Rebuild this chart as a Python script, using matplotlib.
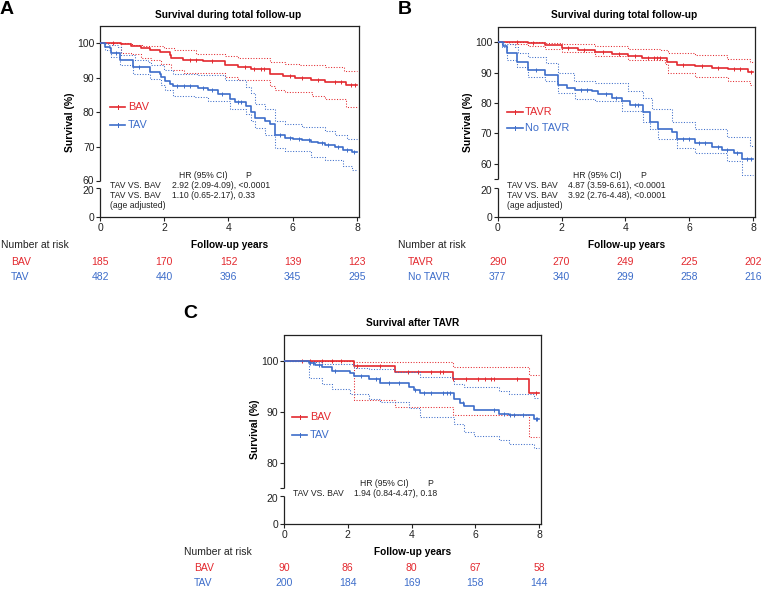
import numpy as np
import matplotlib
matplotlib.use('Agg')
import matplotlib.pyplot as plt
from matplotlib.lines import Line2D
from matplotlib.transforms import blended_transform_factory, ScaledTranslation

plt.rcParams['font.family'] = ['Liberation Sans', 'DejaVu Sans']

W, H = 765, 589
RED = '#e3292f'
BLUE = '#3d6dca'
DARK = '#222222'

# ---------------- data ----------------
risk_times = [0, 2, 4, 6, 8]
x_ticks = [0, 2, 4, 6, 8]

# Panel A
A_groups = ['BAV', 'TAV']
A_risk_BAV = [185, 170, 152, 139, 123]
A_risk_TAV = [482, 440, 396, 345, 295]
A_BAV_t = [0, 0.66, 0.98, 1.29, 1.55, 1.86, 2.17, 2.22, 2.59, 3.20, 3.90, 4.30, 4.70, 5.29, 5.70, 6.06, 6.58, 7.00, 7.67]
A_BAV_s = [100, 99.7, 99.2, 98.5, 98.0, 97.4, 96.6, 95.8, 95.1, 94.8, 93.8, 93.1, 92.5, 91.0, 90.4, 90.0, 89.4, 88.7, 87.9]
A_BAV_up_t = [0, 1.0, 1.3, 2.0, 2.3, 3.0, 3.9, 4.3, 5.3, 5.75, 6.2, 7.0, 7.6]
A_BAV_up_s = [100, 99.6, 99.3, 98.6, 98.0, 97.0, 96.3, 95.8, 94.6, 94.1, 93.6, 93.1, 92.0]
A_BAV_lo_t = [0, 0.66, 0.98, 1.29, 1.6, 1.9, 2.2, 2.6, 3.9, 4.3, 5.3, 5.45, 5.75, 6.6, 7.0, 7.65]
A_BAV_lo_s = [100, 97.3, 96.8, 95.6, 95.0, 94.0, 92.2, 91.3, 90.3, 89.2, 87.7, 86.4, 85.7, 84.8, 83.8, 81.5]
A_BAV_cens = [0.4, 2.8, 3.0, 3.5, 4.5, 4.8, 5.0, 5.1, 5.9, 6.3, 6.8, 7.3, 7.5, 7.8, 7.95]

A_TAV_t = [0, 0.15, 0.30, 0.35, 0.61, 1.03, 1.55, 1.86, 1.91, 2.01, 2.17, 2.27, 2.95, 3.05, 3.36, 3.68, 4.04, 4.20, 4.56,
           4.71, 4.82, 5.13, 5.29, 5.44, 5.75, 6.00, 6.30, 6.58, 6.80, 7.00, 7.30, 7.57, 7.83]
A_TAV_s = [100, 99.0, 98.5, 97.3, 95.1, 93.1, 91.7, 91.2, 90.2, 89.0, 88.2, 87.7, 87.5, 87.0, 86.3, 85.3, 83.8, 82.8, 81.9,
           79.9, 78.4, 77.5, 76.5, 73.5, 72.6, 72.2, 71.9, 71.4, 71.0, 70.5, 69.9, 69.1, 68.3]
A_TAV_up_t = [0, 0.25, 0.56, 0.66, 1.08, 1.5, 1.6, 2.0, 2.27, 3.05, 3.88, 4.56, 4.71, 4.82, 5.13, 5.44, 5.75, 6.3, 7.0, 7.3, 7.7]
A_TAV_up_s = [100, 99.5, 99.0, 96.6, 95.1, 94.6, 93.6, 92.2, 91.2, 90.7, 89.2, 87.3, 85.5, 82.4, 81.0, 77.5, 76.5, 75.8, 74.5, 73.5, 72.3]
A_TAV_lo_t = [0, 0.15, 0.35, 0.61, 1.03, 1.55, 1.91, 2.01, 2.27, 2.95, 3.36, 4.04, 4.56, 4.71, 4.82, 5.13, 5.44, 5.75, 6.58, 7.0, 7.57, 7.83]
A_TAV_lo_s = [100, 98.0, 96.1, 93.6, 91.2, 89.7, 88.0, 86.3, 84.8, 84.3, 83.3, 80.9, 79.4, 77.5, 75.5, 73.5, 69.6, 68.6, 66.9, 66.0, 64.3, 63.3]
A_TAV_cens = [0.5, 1.2, 2.4, 2.6, 2.8, 3.2, 3.5, 3.8, 4.3, 4.4, 5.6, 5.9, 6.2, 6.5, 6.9, 7.1, 7.4, 7.7, 7.9]

# Panel B
B_groups = ['TAVR', 'No TAVR']
B_risk_TAVR = [290, 270, 249, 225, 202]
B_risk_No = [377, 340, 299, 258, 216]
B_TAVR_t = [0, 0.96, 1.48, 2.0, 2.53, 3.05, 3.57, 4.09, 4.51, 5.29, 5.61, 6.18, 6.70, 7.23, 7.85]
B_TAVR_s = [100, 99.7, 99.1, 98.2, 97.3, 96.8, 96.0, 95.5, 94.8, 93.5, 92.5, 92.2, 91.6, 91.2, 90.3]
B_TAVR_up_t = [0, 1.5, 2.0, 3.05, 4.09, 5.1, 5.35, 6.18, 7.2, 7.9]
B_TAVR_up_s = [100, 99.8, 99.5, 98.6, 97.8, 97.3, 96.5, 95.8, 94.6, 93.4]
B_TAVR_lo_t = [0, 0.34, 0.96, 1.48, 2.0, 3.05, 4.09, 5.24, 5.35, 6.18, 7.23, 7.9]
B_TAVR_lo_s = [100, 99.5, 98.7, 97.8, 96.8, 95.4, 94.1, 92.8, 89.8, 88.7, 87.1, 86.0]
B_TAVR_cens = [0.6, 1.1, 2.2, 2.7, 3.3, 3.8, 4.3, 4.7, 4.9, 5.0, 5.1, 5.8, 6.4, 6.9, 7.4, 7.6, 7.95]

B_No_t = [0, 0.18, 0.28, 0.60, 0.96, 1.48, 1.90, 2.16, 2.42, 2.95, 3.15, 3.57, 3.89, 4.15, 4.56, 4.77, 5.03, 5.45, 5.61,
          6.18, 6.70, 7.02, 7.40, 7.65]
B_No_s = [100, 98.9, 96.5, 93.5, 90.9, 89.2, 86.0, 84.9, 84.4, 83.9, 82.8, 81.7, 80.6, 79.4, 76.9, 73.7, 71.5, 70.4, 68.0,
          66.8, 65.5, 64.5, 63.5, 61.5]
B_No_up_t = [0, 0.2, 0.54, 0.65, 0.96, 1.5, 1.9, 2.4, 3.05, 4.09, 4.56, 4.82, 5.45, 6.18, 7.2, 7.9]
B_No_up_s = [100, 99.5, 98.4, 96.3, 95.2, 93.0, 89.8, 87.1, 86.6, 83.9, 81.7, 78.0, 73.7, 71.5, 68.8, 66.0]
B_No_lo_t = [0, 0.12, 0.28, 0.6, 0.96, 1.48, 1.9, 2.42, 3.05, 3.89, 4.56, 4.77, 5.03, 5.61, 6.18, 7.2, 7.65]
B_No_lo_s = [100, 98.4, 94.1, 91.9, 88.7, 87.1, 83.3, 81.2, 80.7, 77.4, 73.7, 71.5, 68.3, 65.1, 63.5, 60.8, 56.3]
B_No_cens = [1.2, 2.6, 2.8, 3.4, 3.7, 4.3, 4.4, 5.8, 6.0, 6.3, 6.5, 6.9, 7.2, 7.5, 7.8, 7.95]

# Panel C
C_groups = ['BAV', 'TAV']
C_risk_BAV = [90, 86, 80, 67, 58]
C_risk_TAV = [200, 184, 169, 158, 144]
C_BAV_t = [0, 2.19, 3.49, 5.29, 7.70]
C_BAV_s = [100, 98.9, 97.7, 96.4, 93.6]
C_BAV_up_t = [0, 2.19, 5.29, 7.70]
C_BAV_up_s = [100, 99.8, 98.8, 97.2]
C_BAV_lo_t = [0, 2.19, 3.49, 5.29, 7.70]
C_BAV_lo_s = [100, 92.2, 91.0, 89.3, 85.1]
C_BAV_cens = [0.55, 0.8, 1.2, 1.5, 1.8, 2.3, 3.0, 3.9, 4.2, 4.6, 4.9, 5.0, 5.3, 5.7, 6.1, 6.3, 6.5, 6.6, 7.3, 7.9]

C_TAV_t = [0, 0.77, 0.98, 1.19, 1.51, 2.08, 2.19, 2.66, 3.02, 3.91, 4.07, 4.28, 5.32, 5.53, 5.64, 5.95, 6.74, 7.05, 7.83]
C_TAV_s = [100, 99.6, 99.1, 98.8, 98.0, 97.5, 97.0, 96.4, 95.7, 94.8, 94.3, 93.6, 92.4, 91.6, 91.2, 90.3, 89.6, 89.3, 88.6]
C_TAV_up_t = [0, 0.77, 1.19, 2.19, 2.66, 3.49, 4.28, 5.32, 5.64, 6.74, 7.05, 7.83]
C_TAV_up_s = [100, 99.8, 99.4, 98.6, 98.3, 97.7, 96.7, 95.4, 94.8, 94.1, 93.5, 92.7]
C_TAV_lo_t = [0, 0.77, 1.19, 1.51, 2.08, 2.66, 3.02, 3.91, 4.28, 5.32, 5.64, 5.95, 6.74, 7.05, 7.83]
C_TAV_lo_s = [100, 96.5, 95.5, 94.4, 93.4, 92.5, 91.8, 90.8, 89.0, 87.6, 86.0, 85.2, 84.4, 83.7, 82.8]
C_TAV_cens = [0.8, 0.9, 1.1, 1.6, 2.4, 2.9, 3.0, 3.3, 3.6, 4.1, 4.4, 4.6, 5.0, 5.1, 5.2, 5.6, 6.6, 6.9, 7.1, 7.2, 7.5, 7.9, 7.95]

END_T = 8.0

# ---------------- drawing ----------------
fig = plt.figure(figsize=(W / 100, H / 100), dpi=100)


def fx(px):
    return px / W


def fy(py):
    return 1 - py / H


def make_axes(left, right, top, bottom, ybreak, ypx, yticks, ylabels):
    ax = fig.add_axes([fx(left), fy(bottom), (right - left) / W, (bottom - top) / H])
    bp = np.array(ybreak, float)
    pp = np.array(ypx, float)
    ax.set_yscale('function', functions=(lambda y: np.interp(y, bp, pp),
                                         lambda y: np.interp(y, pp, bp)))
    ax.set_xlim(0, 8.05)
    ax.set_ylim(0, 105)
    ax.set_xticks(x_ticks)
    ax.set_yticks(yticks)
    ax.set_yticklabels(ylabels)
    for sp in ['top', 'right', 'bottom']:
        ax.spines[sp].set_color(DARK)
        ax.spines[sp].set_linewidth(0.9)
    ax.spines['left'].set_visible(False)
    tr = ax.get_yaxis_transform()
    ax.plot([0, 0], [0, 20], color=DARK, lw=0.9, transform=tr, clip_on=False, solid_capstyle='butt')
    ax.plot([0, 0], [ybreak[2], 105], color=DARK, lw=0.9, transform=tr, clip_on=False, solid_capstyle='butt')
    ax.tick_params(direction='out', length=3, width=0.8, colors=DARK, labelsize=7.5)
    ax.tick_params(axis='x', pad=1.5)
    ax.tick_params(axis='y', pad=1)
    # nudge the two labels at the axis break apart slightly
    labs = ax.get_yticklabels()
    labs[1].set_transform(labs[1].get_transform() + ScaledTranslation(0, -1.5 / 100, fig.dpi_scale_trans))
    if ylabels[2]:
        labs[2].set_transform(labs[2].get_transform() + ScaledTranslation(0, 1.5 / 100, fig.dpi_scale_trans))
    return ax


def km(ax, t, s, color, lw=1.2, ls='-'):
    tt = list(t) + [END_T]
    ss = list(s) + [s[-1]]
    ax.step(tt, ss, where='post', color=color, lw=lw, ls=ls)


def cens(ax, t, s, ct, color):
    idx = np.searchsorted(np.array(t), np.array(ct), side='right') - 1
    vals = np.array(s)[idx]
    ax.plot(ct, vals, ls='none', marker='|', ms=3, mew=0.7, color=color)


def panel(ax, curves):
    for (t, s, ut, us, lt, ls_, ct, col) in curves:
        km(ax, ut, us, col, lw=0.75, ls=(0, (1, 1.6)))
        km(ax, lt, ls_, col, lw=0.75, ls=(0, (1, 1.6)))
        km(ax, t, s, col, lw=1.2)
        cens(ax, t, s, ct, col)


def text(px, py, s, **kw):
    fig.text(fx(px), fy(py), s, **kw)


def legend(x1, x2, xt, y, label, color):
    fig.add_artist(Line2D([fx(x1), fx(x2)], [fy(y), fy(y)], color=color, lw=1.2, transform=fig.transFigure))
    fig.add_artist(Line2D([fx((x1 + x2) / 2)] * 2, [fy(y - 2), fy(y + 2)], color=color, lw=0.7, transform=fig.transFigure))
    text(xt, y, label, color=color, fontsize=7.8, va='center', ha='left')


def risk(ax, px_label, py_rows, labels, rows, colors, py_head):
    text(px_label - 10, py_head, 'Number at risk', fontsize=7.5, va='center', ha='left', color=DARK)
    tr = blended_transform_factory(ax.transData, fig.transFigure)
    for lab, row, col, py in zip(labels, rows, colors, py_rows):
        text(px_label, py, lab, fontsize=7.5, va='center', ha='left', color=col)
        for xv, n in zip(risk_times, row):
            ax.text(xv, fy(py), str(n), transform=tr, fontsize=7.5, va='center', ha='center', color=col)


HRFS = 6.2

# Panel A
axA = make_axes(100, 358.6, 26, 217, [0, 20, 60, 105], [0, 29, 36, 191],
                [0, 20, 60, 70, 80, 90, 100], ['0', '20', '60', '70', '80', '90', '100'])
panel(axA, [(A_BAV_t, A_BAV_s, A_BAV_up_t, A_BAV_up_s, A_BAV_lo_t, A_BAV_lo_s, A_BAV_cens, RED),
            (A_TAV_t, A_TAV_s, A_TAV_up_t, A_TAV_up_s, A_TAV_lo_t, A_TAV_lo_s, A_TAV_cens, BLUE)])
text(7, 9, 'A', fontsize=14, fontweight='bold', ha='center', va='center')
text(228, 15, 'Survival during total follow-up', fontsize=7.3, fontweight='bold', ha='center', va='center')
text(70, 122, 'Survival (%)', fontsize=7.5, fontweight='bold', rotation=90, ha='center', va='center')
text(230, 245, 'Follow-up years', fontsize=7.3, fontweight='bold', ha='center', va='center')
legend(110, 125, 128, 107, A_groups[0], RED)
legend(110, 125, 128, 125, A_groups[1], BLUE)
text(179, 175, 'HR (95% CI)', fontsize=HRFS, va='center', color=DARK)
text(245, 175, 'P', fontsize=HRFS, va='center', color=DARK)
text(110, 186, 'TAV VS. BAV', fontsize=HRFS, va='center', color=DARK)
text(172, 186, '2.92 (2.09-4.09), <0.0001', fontsize=HRFS, va='center', color=DARK)
text(110, 196, 'TAV VS. BAV', fontsize=HRFS, va='center', color=DARK)
text(172, 196, '1.10 (0.65-2.17), 0.33', fontsize=HRFS, va='center', color=DARK)
text(110, 206, '(age adjusted)', fontsize=HRFS, va='center', color=DARK)
risk(axA, 11, [262, 277], A_groups, [A_risk_BAV, A_risk_TAV], [RED, BLUE], 245)

# Panel B
axB = make_axes(497.7, 754.6, 27, 216.7, [0, 20, 55, 105], [0, 28.7, 37.7, 189.7],
                [0, 20, 55, 60, 70, 80, 90, 100], ['0', '20', '', '60', '70', '80', '90', '100'])
panel(axB, [(B_TAVR_t, B_TAVR_s, B_TAVR_up_t, B_TAVR_up_s, B_TAVR_lo_t, B_TAVR_lo_s, B_TAVR_cens, RED),
            (B_No_t, B_No_s, B_No_up_t, B_No_up_s, B_No_lo_t, B_No_lo_s, B_No_cens, BLUE)])
text(405, 9, 'B', fontsize=14, fontweight='bold', ha='center', va='center')
text(624, 15, 'Survival during total follow-up', fontsize=7.3, fontweight='bold', ha='center', va='center')
text(468, 122, 'Survival (%)', fontsize=7.5, fontweight='bold', rotation=90, ha='center', va='center')
text(627, 245, 'Follow-up years', fontsize=7.3, fontweight='bold', ha='center', va='center')
legend(507, 523, 525, 112, B_groups[0], RED)
legend(507, 523, 525, 128, B_groups[1], BLUE)
text(573, 175, 'HR (95% CI)', fontsize=HRFS, va='center', color=DARK)
text(640, 175, 'P', fontsize=HRFS, va='center', color=DARK)
text(507, 186, 'TAV VS. BAV', fontsize=HRFS, va='center', color=DARK)
text(568, 186, '4.87 (3.59-6.61), <0.0001', fontsize=HRFS, va='center', color=DARK)
text(507, 196, 'TAV VS. BAV', fontsize=HRFS, va='center', color=DARK)
text(568, 196, '3.92 (2.76-4.48), <0.0001', fontsize=HRFS, va='center', color=DARK)
text(507, 206, '(age adjusted)', fontsize=HRFS, va='center', color=DARK)
risk(axB, 408, [262, 277], B_groups, [B_risk_TAVR, B_risk_No], [RED, BLUE], 245)

# Panel C
axC = make_axes(284, 540.6, 335, 524, [0, 20, 75, 105], [0, 28, 35.7, 189],
                [0, 20, 75, 80, 90, 100], ['0', '20', '', '80', '90', '100'])
panel(axC, [(C_BAV_t, C_BAV_s, C_BAV_up_t, C_BAV_up_s, C_BAV_lo_t, C_BAV_lo_s, C_BAV_cens, RED),
            (C_TAV_t, C_TAV_s, C_TAV_up_t, C_TAV_up_s, C_TAV_lo_t, C_TAV_lo_s, C_TAV_cens, BLUE)])
text(190, 313, 'C', fontsize=14, fontweight='bold', ha='center', va='center')
text(413, 323, 'Survival after TAVR', fontsize=7.3, fontweight='bold', ha='center', va='center')
text(255, 429, 'Survival (%)', fontsize=7.5, fontweight='bold', rotation=90, ha='center', va='center')
text(413, 552, 'Follow-up years', fontsize=7.3, fontweight='bold', ha='center', va='center')
legend(292, 307, 310, 417, C_groups[0], RED)
legend(292, 307, 310, 435, C_groups[1], BLUE)
text(360, 483, 'HR (95% CI)', fontsize=HRFS, va='center', color=DARK)
text(427, 483, 'P', fontsize=HRFS, va='center', color=DARK)
text(293, 494, 'TAV VS. BAV', fontsize=HRFS, va='center', color=DARK)
text(354, 494, '1.94 (0.84-4.47), 0.18', fontsize=HRFS, va='center', color=DARK)
risk(axC, 194, [568, 583], C_groups, [C_risk_BAV, C_risk_TAV], [RED, BLUE], 552)

fig.savefig('out.png', dpi=100)
